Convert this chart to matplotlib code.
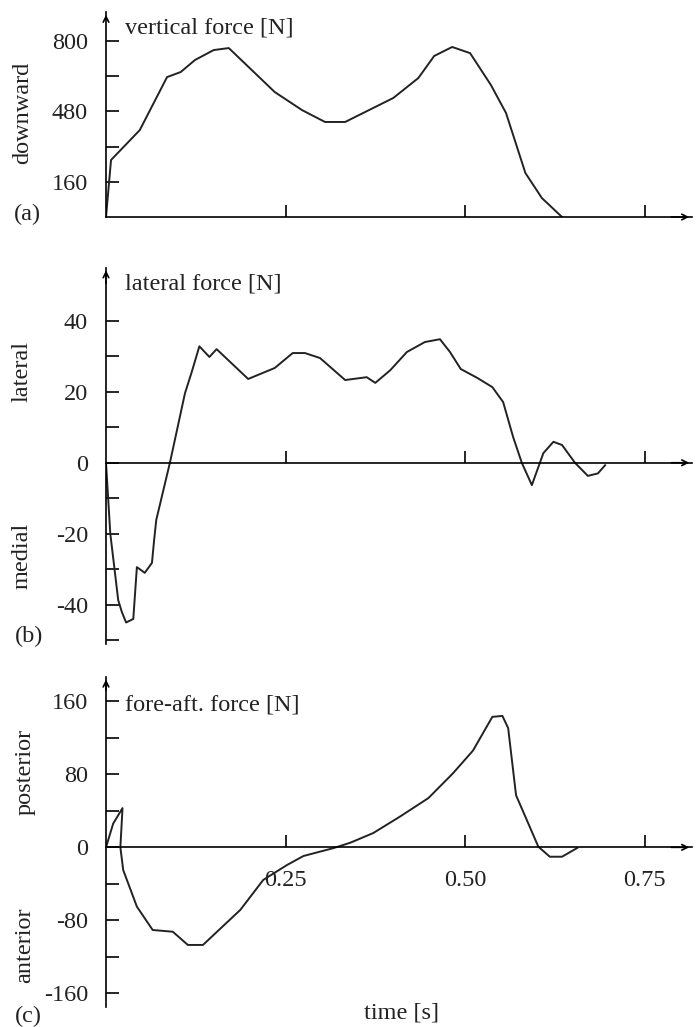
import matplotlib
matplotlib.use("Agg")
import matplotlib.pyplot as plt

plt.rcParams['font.family'] = ['Liberation Serif', 'DejaVu Serif']
plt.rcParams['axes.unicode_minus'] = False

# time [s] and force [N]
t_vert = [0, 0.007, 0.047, 0.085, 0.104, 0.124, 0.150, 0.171, 0.235, 0.273,
          0.305, 0.333, 0.400, 0.435, 0.457, 0.482, 0.507, 0.536, 0.557,
          0.584, 0.607, 0.635]
f_vert = [0, 259, 395, 636, 659, 714, 759, 768, 568, 486,
          432, 432, 541, 632, 732, 773, 745, 600, 473,
          200, 86, 0]

t_lat = [0, 0.006, 0.017, 0.022, 0.028, 0.038, 0.043, 0.054, 0.064, 0.067,
         0.070, 0.089, 0.110, 0.119, 0.130, 0.144, 0.154, 0.198, 0.235,
         0.260, 0.277, 0.298, 0.333, 0.363, 0.375, 0.396, 0.419, 0.444,
         0.465, 0.479, 0.494, 0.517, 0.538, 0.553, 0.567, 0.579, 0.593,
         0.609, 0.623, 0.635, 0.653, 0.671, 0.685, 0.695]
f_lat = [0, -20, -38.7, -42, -45, -44, -29.4, -31, -28.2, -21.8,
         -16.1, 0, 19.6, 25.3, 32.8, 29.8, 32, 23.6, 26.7,
         30.9, 30.9, 29.5, 23.3, 24.1, 22.5, 26.1, 31.2, 34,
         34.8, 31.2, 26.4, 23.9, 21.3, 17.1, 7.2, 0, -6.3,
         2.7, 5.9, 5.0, 0, -3.7, -3, -0.7]

t_fa = [0, 0.010, 0.023, 0.020, 0.024, 0.043, 0.065, 0.093, 0.114, 0.135,
        0.187, 0.219, 0.252, 0.275, 0.317, 0.340, 0.372, 0.409, 0.449, 0.483,
        0.511, 0.538, 0.552, 0.560, 0.571, 0.584, 0.602, 0.618, 0.635, 0.656]
f_fa = [0, 26, 43, 0, -25, -65, -90.6, -92.5, -107, -107,
        -68.6, -35.7, -19.4, -9.5, -0.8, 5, 15.6, 33.5, 54, 81,
        106, 143, 144, 130.7, 57, 33.5, 0.7, -10.3, -10.3, -0.8]

x_ticks = [0.25, 0.50, 0.75]
x_labels = ['0.25', '0.50', '0.75']

W, H = 696, 1027
FS = 17.5
fig = plt.figure(figsize=(W / 100, H / 100), dpi=100)


def px_axes(left, top, right, bottom):
    return fig.add_axes([left / W, 1 - bottom / H, (right - left) / W, (bottom - top) / H])


def px_text(x, y, s, **kw):
    fig.text(x / W, 1 - y / H, s, fontsize=FS, color='#222222', **kw)


def style(ax, ylim, yticks, ylabels, show_xlabels=False):
    ax.set_xlim(0, 0.816)
    ax.set_ylim(*ylim)
    for s in ['top', 'right']:
        ax.spines[s].set_visible(False)
    ax.spines['bottom'].set_position(('data', 0))
    for s in ['left', 'bottom']:
        ax.spines[s].set_linewidth(1.2)
    ax.set_yticks(yticks)
    ax.set_yticklabels(ylabels)
    ax.set_xticks(x_ticks)
    ax.set_xticklabels(x_labels if show_xlabels else [''] * 3)
    ax.tick_params(axis='y', direction='in', length=9, width=1.2, pad=13,
                   labelsize=FS, labelcolor='#222222')
    ax.tick_params(axis='x', direction='in', length=9, width=1.2, pad=16,
                   labelsize=FS, labelcolor='#222222')
    # arrow heads on both axes
    ax.annotate('', xy=(1, 0), xytext=(0.96, 0), xycoords=('axes fraction', 'data'),
                arrowprops=dict(arrowstyle='->', lw=1.2, color='k'), annotation_clip=False)
    ax.annotate('', xy=(0, 1), xytext=(0, 0.95), xycoords='axes fraction',
                arrowprops=dict(arrowstyle='->', lw=1.2, color='k'), annotation_clip=False)
    ax.patch.set_visible(False)


# (a) vertical force
ax1 = px_axes(106, 12, 692, 217)
ax1.plot(t_vert, f_vert, color='#222222', lw=1.4)
style(ax1, (0, 932), [160, 320, 480, 640, 800], ['160', '', '480', '', '800'])

# (b) lateral force
ax2 = px_axes(106, 267.5, 692, 643.8)
ax2.plot(t_lat, f_lat, color='#222222', lw=1.4)
style(ax2, (-51, 55), list(range(-50, 41, 10)),
      ['', '-40', '', '-20', '', '0', '', '20', '', '40'])

# (c) fore-aft force
ax3 = px_axes(106, 676.7, 692, 1007)
ax3.plot(t_fa, f_fa, color='#222222', lw=1.4)
style(ax3, (-175, 187), list(range(-160, 161, 40)),
      ['-160', '', '-80', '', '0', '', '80', '', '160'], show_xlabels=True)

px_text(125, 28, 'vertical force [N]', va='center', ha='left')
px_text(125, 284, 'lateral force [N]', va='center', ha='left')
px_text(125, 705, 'fore-aft. force [N]', va='center', ha='left')

px_text(23, 113, 'downward', rotation=90, va='center', ha='center')
px_text(22, 372, 'lateral', rotation=90, va='center', ha='center')
px_text(22, 556, 'medial', rotation=90, va='center', ha='center')
px_text(25, 772, 'posterior', rotation=90, va='center', ha='center')
px_text(25, 945, 'anterior', rotation=90, va='center', ha='center')

px_text(27, 214, '(a)', va='center', ha='center')
px_text(29, 636, '(b)', va='center', ha='center')
px_text(28, 1016, '(c)', va='center', ha='center')
px_text(402, 1013, 'time [s]', va='center', ha='center')

fig.savefig('out.png', dpi=100)
